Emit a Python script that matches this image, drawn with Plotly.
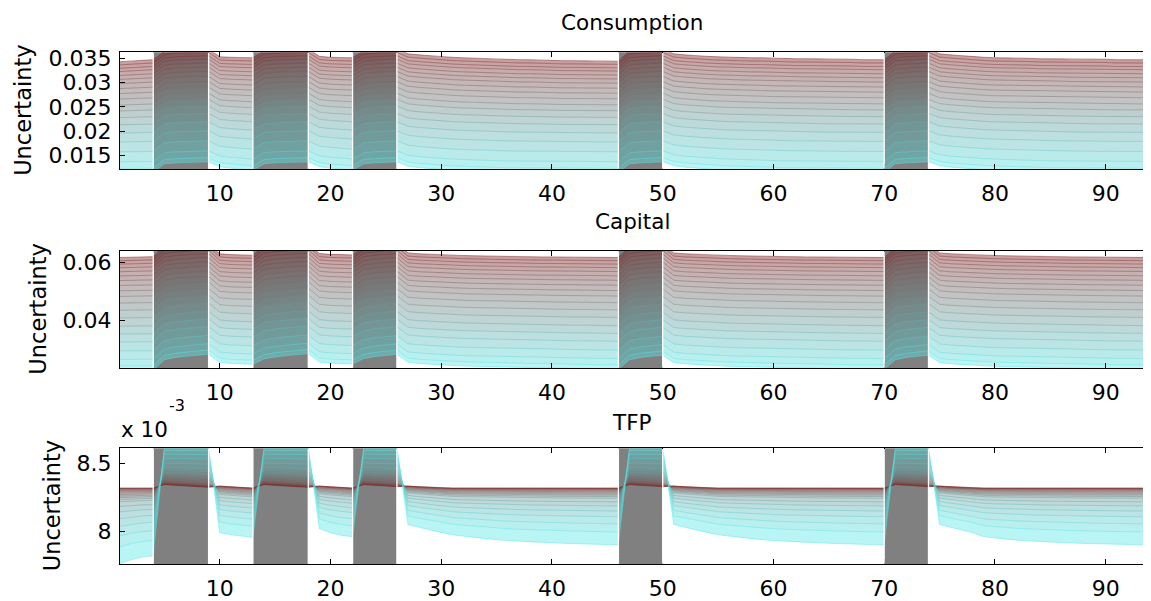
import plotly.graph_objects as go

# ---------------- data ----------------
x = list(range(1, 95))

# recession (grey) periods
rec_start = [4, 13, 22, 46, 70]
rec_end = [9, 18, 26, 50, 74]
# the fan is drawn piecewise between regime switches
seg_edges = [1, 4, 9, 13, 18, 22, 26, 46, 50, 70, 74, 94]

# Consumption: upper (red) and lower (cyan) edge of the fan
cons_top = [0.0343, 0.0344, 0.0346, 0.0347,
            0.0364, 0.0367, 0.0368, 0.0369, 0.0369,
            0.0353, 0.0352, 0.0351, 0.0351,
            0.0365, 0.0367, 0.0368, 0.0369, 0.0369,
            0.0354, 0.0352, 0.0351, 0.0351,
            0.0365, 0.0367, 0.0368, 0.0369,
            0.0359, 0.0357, 0.0355, 0.0353, 0.0352, 0.0351, 0.0350, 0.0349, 0.0348, 0.0348,
            0.0347, 0.0347, 0.0346, 0.0346, 0.0345, 0.0345, 0.0345, 0.0344, 0.0344, 0.0344,
            0.0365, 0.0367, 0.0368, 0.0369,
            0.0359, 0.0357, 0.0355, 0.0354, 0.0353, 0.0352, 0.0352, 0.0351, 0.0351, 0.0350,
            0.0350, 0.0349, 0.0349, 0.0349, 0.0348, 0.0348, 0.0348, 0.0347, 0.0347, 0.0347,
            0.0365, 0.0367, 0.0368, 0.0369,
            0.0359, 0.0357, 0.0355, 0.0354, 0.0352, 0.0351, 0.0351, 0.0350, 0.0350, 0.0349,
            0.0349, 0.0349, 0.0348, 0.0348, 0.0348, 0.0348, 0.0347, 0.0347, 0.0347, 0.0347]
cons_bot = [0.0115, 0.0115, 0.0115, 0.0115,
            0.0133, 0.0135, 0.0136, 0.0137, 0.0137,
            0.0127, 0.0124, 0.0122, 0.0120,
            0.0133, 0.0135, 0.0136, 0.0137, 0.0137,
            0.0127, 0.0124, 0.0122, 0.0120,
            0.0133, 0.0135, 0.0136, 0.0137,
            0.0128, 0.0125, 0.0123, 0.0121, 0.0120, 0.0119, 0.0118, 0.0117, 0.0117, 0.0116,
            0.0116, 0.0116, 0.0115, 0.0115, 0.0115, 0.0115, 0.0115, 0.0115, 0.0115, 0.0115,
            0.0133, 0.0135, 0.0136, 0.0137,
            0.0129, 0.0126, 0.0124, 0.0122, 0.0121, 0.0120, 0.0119, 0.0118, 0.0117, 0.0117,
            0.0116, 0.0116, 0.0116, 0.0115, 0.0115, 0.0115, 0.0115, 0.0115, 0.0115, 0.0115,
            0.0133, 0.0135, 0.0136, 0.0137,
            0.0129, 0.0126, 0.0124, 0.0122, 0.0121, 0.0120, 0.0119, 0.0118, 0.0117, 0.0117,
            0.0116, 0.0116, 0.0116, 0.0115, 0.0115, 0.0115, 0.0115, 0.0115, 0.0115, 0.0115]
# relative position of each fan line between the red (0) and cyan (1) edge
cons_levels = [0.0, 0.029, 0.060, 0.089, 0.125, 0.160, 0.198, 0.243, 0.288, 0.338,
               0.392, 0.445, 0.505, 0.570, 0.644, 0.724, 0.813, 0.902, 0.962, 1.0]

# Capital
cap_top = [0.0618, 0.0619, 0.0620, 0.0621,
           0.0655, 0.0660, 0.0663, 0.0665, 0.0666,
           0.0631, 0.0628, 0.0627, 0.0626,
           0.0656, 0.0661, 0.0664, 0.0666, 0.0667,
           0.0632, 0.0629, 0.0628, 0.0627,
           0.0656, 0.0661, 0.0664, 0.0666,
           0.0634, 0.0631, 0.0629, 0.0627, 0.0626, 0.0625, 0.0624, 0.0623, 0.0622, 0.0622,
           0.0621, 0.0621, 0.0620, 0.0620, 0.0620, 0.0619, 0.0619, 0.0619, 0.0619, 0.0618,
           0.0655, 0.0660, 0.0663, 0.0665,
           0.0634, 0.0631, 0.0629, 0.0627, 0.0626, 0.0625, 0.0624, 0.0623, 0.0622, 0.0622,
           0.0621, 0.0621, 0.0620, 0.0620, 0.0620, 0.0619, 0.0619, 0.0619, 0.0619, 0.0618,
           0.0655, 0.0660, 0.0663, 0.0665,
           0.0634, 0.0631, 0.0629, 0.0627, 0.0626, 0.0625, 0.0624, 0.0623, 0.0622, 0.0622,
           0.0621, 0.0621, 0.0620, 0.0620, 0.0620, 0.0619, 0.0619, 0.0619, 0.0619, 0.0618]
cap_bot = [0.0226, 0.0226, 0.0226, 0.0226,
           0.0262, 0.0270, 0.0275, 0.0278, 0.0281,
           0.0253, 0.0249, 0.0247, 0.0246,
           0.0265, 0.0272, 0.0277, 0.0280, 0.0283,
           0.0254, 0.0250, 0.0248, 0.0247,
           0.0266, 0.0273, 0.0278, 0.0281,
           0.0253, 0.0249, 0.0246, 0.0244, 0.0242, 0.0240, 0.0239, 0.0238, 0.0237, 0.0236,
           0.0235, 0.0234, 0.0233, 0.0233, 0.0232, 0.0231, 0.0231, 0.0230, 0.0230, 0.0229,
           0.0262, 0.0270, 0.0275, 0.0278,
           0.0252, 0.0248, 0.0245, 0.0243, 0.0241, 0.0239, 0.0238, 0.0237, 0.0236, 0.0235,
           0.0234, 0.0233, 0.0233, 0.0232, 0.0231, 0.0231, 0.0230, 0.0230, 0.0229, 0.0229,
           0.0262, 0.0270, 0.0275, 0.0278,
           0.0252, 0.0248, 0.0245, 0.0243, 0.0241, 0.0239, 0.0238, 0.0237, 0.0236, 0.0235,
           0.0234, 0.0233, 0.0233, 0.0232, 0.0231, 0.0231, 0.0230, 0.0230, 0.0229, 0.0229]
cap_levels = [0.0, 0.029, 0.059, 0.091, 0.126, 0.164, 0.205, 0.249, 0.296, 0.346,
              0.405, 0.469, 0.537, 0.610, 0.680, 0.750, 0.830, 0.905, 0.962, 1.0]

# TFP (values in units of 1e-3): red edge and cyan edge of the fan
tfp_red = [8.32, 8.32, 8.32, 8.32,
           8.345, 8.34, 8.335, 8.33, 8.325,
           8.335, 8.33, 8.325, 8.32,
           8.345, 8.34, 8.335, 8.33, 8.325,
           8.335, 8.33, 8.325, 8.32,
           8.345, 8.34, 8.335, 8.33,
           8.335, 8.33, 8.325, 8.32, 8.32, 8.32, 8.32, 8.32, 8.32, 8.32,
           8.32, 8.32, 8.32, 8.32, 8.32, 8.32, 8.32, 8.32, 8.32, 8.32,
           8.345, 8.34, 8.335, 8.33,
           8.335, 8.33, 8.325, 8.32, 8.32, 8.32, 8.32, 8.32, 8.32, 8.32,
           8.32, 8.32, 8.32, 8.32, 8.32, 8.32, 8.32, 8.32, 8.32, 8.32,
           8.345, 8.34, 8.335, 8.33,
           8.335, 8.33, 8.325, 8.32, 8.32, 8.32, 8.32, 8.32, 8.32, 8.32,
           8.32, 8.32, 8.32, 8.32, 8.32, 8.32, 8.32, 8.32, 8.32, 8.32]
tfp_cyan = [7.76, 7.79, 7.81, 7.82,
            8.62, 8.62, 8.62, 8.62, 8.62,
            7.99, 7.975, 7.965, 7.955,
            8.62, 8.62, 8.62, 8.62, 8.62,
            8.02, 7.99, 7.97, 7.96,
            8.62, 8.62, 8.62, 8.62,
            8.05, 8.03, 8.01, 7.99, 7.975, 7.965, 7.955, 7.945, 7.938, 7.932,
            7.927, 7.922, 7.918, 7.915, 7.912, 7.909, 7.907, 7.905, 7.903, 7.900,
            8.62, 8.62, 8.62, 8.62,
            8.05, 8.03, 8.01, 7.99, 7.975, 7.965, 7.955, 7.945, 7.938, 7.932,
            7.927, 7.922, 7.918, 7.915, 7.912, 7.909, 7.907, 7.905, 7.903, 7.900,
            8.62, 8.62, 8.62, 8.62,
            8.05, 8.03, 8.01, 7.99, 7.96, 7.95, 7.94, 7.935, 7.93, 7.925,
            7.92, 7.917, 7.914, 7.911, 7.908, 7.906, 7.904, 7.902, 7.901, 7.900]
# line positions in expansions (crowded next to the red line) and in recessions
tfp_levels = [0.0, 0.004, 0.009, 0.016, 0.025, 0.036, 0.050, 0.066, 0.085, 0.105,
              0.125, 0.150, 0.179, 0.244, 0.315, 0.405, 0.506, 0.631, 0.774, 1.0]
tfp_levels_rec = [0.0, 0.01, 0.02, 0.03, 0.045, 0.06, 0.08, 0.11, 0.15, 0.19,
                  0.23, 0.28, 0.33, 0.40, 0.46, 0.58, 0.71, 0.82, 0.92, 1.0]

x_ticks = [10, 20, 30, 40, 50, 60, 70, 80, 90]
cons_ticks = [0.015, 0.02, 0.025, 0.03, 0.035]
cons_ticktext = ["0.015", "0.02", "0.025", "0.03", "0.035"]
cap_ticks = [0.04, 0.06]
cap_ticktext = ["0.04", "0.06"]
tfp_ticks = [8.0, 8.5]
tfp_ticktext = ["8", "8.5"]

titles = ["Consumption", "Capital", "TFP"]

# ---------------- styling ----------------
FONT = "DejaVu Sans"
STOPS = [(124, 29, 29), (112, 112, 112), (88, 231, 231)]


def grad(s):
    if s <= 0.5:
        c0, c1, u = STOPS[0], STOPS[1], s / 0.5
    else:
        c0, c1, u = STOPS[1], STOPS[2], (s - 0.5) / 0.5
    return tuple(int(round(c0[i] + (c1[i] - c0[i]) * u)) for i in range(3))


in_rec = [any(s < t <= e for s, e in zip(rec_start, rec_end)) for t in x]


def fan_lines(edge_a, edge_b, levels, levels_rec):
    out = []
    for fe, fr in zip(levels, levels_rec):
        out.append([edge_a[i] + (fr if in_rec[i] else fe) * (edge_b[i] - edge_a[i])
                    for i in range(len(x))])
    return out


segments = list(zip(seg_edges[:-1], seg_edges[1:]))

fig = go.Figure()

panels = [
    (cons_top, cons_bot, cons_levels, cons_levels, "x", "y"),
    (cap_top, cap_bot, cap_levels, cap_levels, "x2", "y2"),
    (tfp_red, tfp_cyan, tfp_levels, tfp_levels_rec, "x3", "y3"),
]

for edge_a, edge_b, lv, lvr, xa, ya in panels:
    L = fan_lines(edge_a, edge_b, lv, lvr)
    nb = len(L) - 1
    for j in range(nb):
        xs, ys = [], []
        for a, b in segments:
            i0, i1 = a - 1, b
            xs += x[i0:i1] + x[i0:i1][::-1] + [None]
            ys += L[j][i0:i1] + L[j + 1][i0:i1][::-1] + [None]
        r, g, bl = grad(j / (nb - 1))
        fig.add_trace(go.Scatter(x=xs, y=ys, xaxis=xa, yaxis=ya, mode="none",
                                 fill="toself", fillcolor=f"rgba({r},{g},{bl},0.42)",
                                 hoverinfo="skip", showlegend=False))
    for j in range(len(L)):
        xs, ys = [], []
        for a, b in segments:
            i0, i1 = a - 1, b
            xs += x[i0:i1] + [None]
            ys += L[j][i0:i1] + [None]
        r, g, bl = grad(min(j, nb - 1) / (nb - 1))
        fig.add_trace(go.Scatter(x=xs, y=ys, xaxis=xa, yaxis=ya, mode="lines",
                                 line=dict(color=f"rgba({r},{g},{bl},0.45)", width=1),
                                 hoverinfo="skip", showlegend=False))

# ---- geometry: reference pixel positions; the page adds an 8px body margin ----
OFF = 8
W, H = 1151 - OFF, 601 - OFF
PX_LEFT, PX_RIGHT = 120, 1150
plot_w = PX_RIGHT - PX_LEFT
domains = [(46.7, 165.0), (247.3, 366.0), (446.7, 564.0)]


def py(v):
    return 1 - (v - OFF) / H


def pxx(v):
    return (v - PX_LEFT) / plot_w


ydom = [[py(b), py(t)] for t, b in domains]

shapes = []
for k, (xa, ya) in enumerate([("x", "y"), ("x2", "y2"), ("x3", "y3")]):
    for s, e in zip(rec_start, rec_end):
        shapes.append(dict(type="rect", xref=xa, yref=f"{ya} domain", x0=s, x1=e, y0=0, y1=1,
                           fillcolor="rgb(128,128,128)", line=dict(width=0), layer="below"))
    for bnd in seg_edges[1:-1]:
        shapes.append(dict(type="line", xref=xa, yref=f"{ya} domain", x0=bnd, x1=bnd,
                           y0=0.006, y1=0.994, line=dict(color="white", width=1.3), layer="above"))

tick_font = dict(family=FONT, size=22, color="black")


def xaxis_cfg(anchor):
    return dict(domain=[0, 1], anchor=anchor, range=[1, 94], tickvals=x_ticks,
                ticks="inside", ticklen=5, tickcolor="black", tickwidth=1,
                showline=True, linecolor="black", linewidth=1, mirror="ticks",
                showgrid=False, zeroline=False, tickfont=tick_font, ticklabelstandoff=4)


def yaxis_cfg(anchor, dom, rng, tv, tt):
    return dict(domain=dom, anchor=anchor, range=rng, tickvals=tv, ticktext=tt,
                ticks="inside", ticklen=5, tickcolor="black", tickwidth=1,
                showline=True, linecolor="black", linewidth=1, mirror="ticks",
                showgrid=False, zeroline=False, tickfont=tick_font, ticklabelstandoff=3)


annotations = []
title_y = [17, 218, 421]
for t, yy in zip(titles, title_y):
    annotations.append(dict(text=t, xref="paper", yref="paper", x=pxx(632), y=py(yy),
                            xanchor="center", yanchor="middle", showarrow=False,
                            font=dict(family=FONT, size=21.5, color="black")))
ylab_x = [23, 38, 52]
for (t, b), px in zip(domains, ylab_x):
    annotations.append(dict(text="Uncertainty", xref="paper", yref="paper",
                            x=pxx(px), y=py((t + b) / 2), textangle=-90,
                            xanchor="center", yanchor="middle", showarrow=False,
                            font=dict(family=FONT, size=22.5, color="black")))
annotations.append(dict(text="x 10", xref="paper", yref="paper", x=pxx(119), y=py(428),
                        xanchor="left", yanchor="middle", showarrow=False,
                        font=dict(family=FONT, size=21.5, color="black")))
annotations.append(dict(text="-3", xref="paper", yref="paper", x=pxx(167), y=py(403),
                        xanchor="left", yanchor="middle", showarrow=False,
                        font=dict(family=FONT, size=16, color="black")))

fig.update_layout(
    width=W, height=H, margin=dict(l=PX_LEFT - OFF, r=W - (PX_RIGHT - OFF), t=0, b=0),
    paper_bgcolor="white", plot_bgcolor="white", showlegend=False,
    xaxis=xaxis_cfg("y"), xaxis2=xaxis_cfg("y2"), xaxis3=xaxis_cfg("y3"),
    yaxis=yaxis_cfg("x", ydom[0], [0.01215, 0.03622], cons_ticks, cons_ticktext),
    yaxis2=yaxis_cfg("x2", ydom[1], [0.0232, 0.0641], cap_ticks, cap_ticktext),
    yaxis3=yaxis_cfg("x3", ydom[2], [7.756, 8.614], tfp_ticks, tfp_ticktext),
    shapes=shapes, annotations=annotations,
)

fig.write_html("out.html")
